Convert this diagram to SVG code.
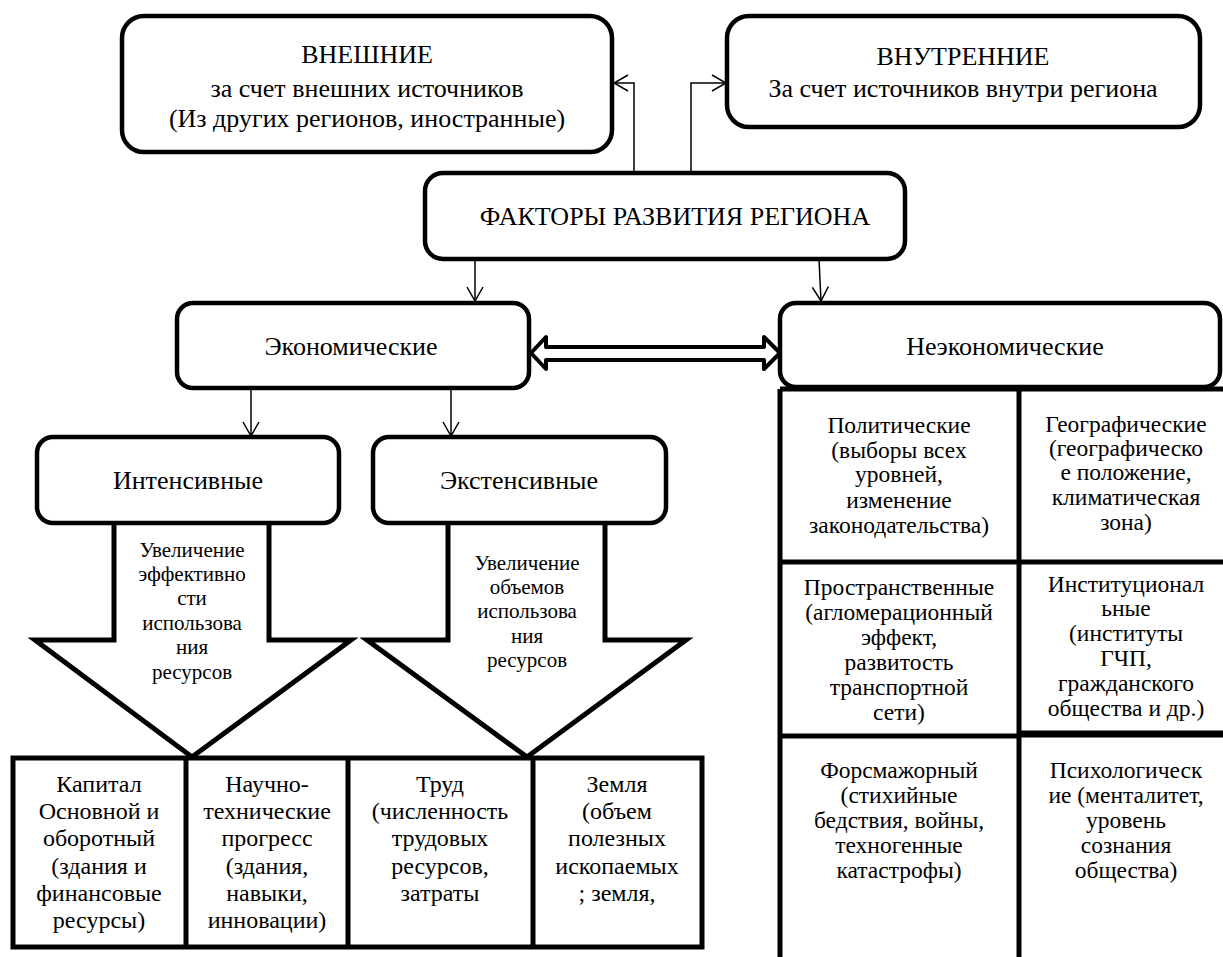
<svg xmlns="http://www.w3.org/2000/svg" width="1223" height="957" viewBox="0 0 1223 957">
<style>
.box{fill:#fff;stroke:#000;stroke-width:4.5}
.cell{fill:#fff;stroke:#000;stroke-width:5}
.ln{fill:none;stroke:#000;stroke-width:5}
.blk{fill:#fff;stroke:#000;stroke-width:5}
.conn{fill:none;stroke:#000;stroke-width:1.5}
.t{fill:#000;text-anchor:middle}
.big{font-size:26px}
.mid{font-size:24px}
.grd{font-size:23.5px}
.sm{font-size:21px}
</style>
<defs>
<marker id="arr" viewBox="0 0 16 18" refX="15" refY="9" markerWidth="16" markerHeight="18" markerUnits="userSpaceOnUse" orient="auto">
<path d="M1,1 L15,9 L1,17" fill="none" stroke="#000" stroke-width="1.5"/>
</marker>
</defs>
<rect width="1223" height="957" fill="#fff"/>

<g id="connectors">
<path class="conn" d="M634,173 V83 H614" marker-end="url(#arr)"/>
<path class="conn" d="M691,173 V83 H726" marker-end="url(#arr)"/>
<path class="conn" d="M475,259 V301" marker-end="url(#arr)"/>
<path class="conn" d="M819,259 L821,301" marker-end="url(#arr)"/>
<path class="conn" d="M251,388 V436" marker-end="url(#arr)"/>
<path class="conn" d="M451,388 V436" marker-end="url(#arr)"/>
<polygon points="531,353 546,337 546,347 764,347 764,337 780,353 764,369 764,360 546,360 546,369" fill="#fff" stroke="#000" stroke-width="4" stroke-linejoin="round"/>
</g>

<g id="vneshnie">
<rect class="box" x="122" y="16" width="490" height="136" rx="22"/>
<text class="t big" font-family="Liberation Serif" x="367"><tspan x="367" y="63">ВНЕШНИЕ</tspan><tspan x="367" y="97">за счет внешних источников</tspan><tspan x="367" y="127">(Из других регионов, иностранные)</tspan></text>
</g>

<g id="vnutrennie">
<rect class="box" x="727" y="16" width="473" height="111" rx="22"/>
<text class="t big" font-family="Liberation Serif" x="963"><tspan x="963" y="65">ВНУТРЕННИЕ</tspan><tspan x="963" y="97">За счет источников внутри региона</tspan></text>
</g>

<g id="faktory">
<rect class="box" x="425" y="173" width="480" height="86" rx="18"/>
<text class="t big" font-family="Liberation Serif" x="675" y="225">ФАКТОРЫ РАЗВИТИЯ РЕГИОНА</text>
</g>

<g id="ekonomicheskie">
<rect class="box" x="177" y="303" width="352" height="85" rx="16"/>
<text class="t big" font-family="Liberation Serif" x="351" y="355">Экономические</text>
</g>

<g id="neekonomicheskie">
<rect class="box" x="780" y="303" width="440" height="84" rx="16"/>
<text class="t big" font-family="Liberation Serif" x="1005" y="355">Неэкономические</text>
</g>

<g id="intensivnye-arrow">
<polyline class="blk" points="114,520 114,640 35,640 192,757 351,640 269,640 269,520"/>
<text class="t sm" font-family="Liberation Serif" x="192"><tspan x="192" y="557">Увеличение</tspan><tspan x="192" y="581">эффективно</tspan><tspan x="192" y="605">сти</tspan><tspan x="192" y="630">использова</tspan><tspan x="192" y="654">ния</tspan><tspan x="192" y="679">ресурсов</tspan></text>
</g>

<g id="ekstensivnye-arrow">
<polyline class="blk" points="448,520 448,640 367,640 527,757 686,640 605,640 605,520"/>
<text class="t sm" font-family="Liberation Serif" x="527"><tspan x="527" y="570">Увеличение</tspan><tspan x="527" y="594">объемов</tspan><tspan x="527" y="618">использова</tspan><tspan x="527" y="643">ния</tspan><tspan x="527" y="667">ресурсов</tspan></text>
</g>

<g id="intensivnye">
<rect class="box" x="37" y="437" width="302" height="86" rx="16"/>
<text class="t big" font-family="Liberation Serif" x="188" y="489">Интенсивные</text>
</g>

<g id="ekstensivnye">
<rect class="box" x="373" y="437" width="293" height="86" rx="16"/>
<text class="t big" font-family="Liberation Serif" x="519" y="489">Экстенсивные</text>
</g>

<g id="resources">
<rect class="cell" x="13" y="758" width="689" height="189"/>
<path class="ln" d="M186,758 V947 M348,758 V947 M533,758 V947"/>
<text class="t mid" font-family="Liberation Serif" x="99"><tspan x="99" y="792">Капитал</tspan><tspan x="99" y="819">Основной и</tspan><tspan x="99" y="846">оборотный</tspan><tspan x="99" y="874">(здания и</tspan><tspan x="99" y="901">финансовые</tspan><tspan x="99" y="928">ресурсы)</tspan></text>
<text class="t mid" font-family="Liberation Serif" x="267"><tspan x="267" y="792">Научно-</tspan><tspan x="267" y="819">технические</tspan><tspan x="267" y="846">прогресс</tspan><tspan x="267" y="874">(здания,</tspan><tspan x="267" y="901">навыки,</tspan><tspan x="267" y="928">инновации)</tspan></text>
<text class="t mid" font-family="Liberation Serif" x="440"><tspan x="440" y="792">Труд</tspan><tspan x="440" y="819">(численность</tspan><tspan x="440" y="846">трудовых</tspan><tspan x="440" y="874">ресурсов,</tspan><tspan x="440" y="901">затраты</tspan></text>
<text class="t mid" font-family="Liberation Serif" x="617"><tspan x="617" y="792">Земля</tspan><tspan x="617" y="819">(объем</tspan><tspan x="617" y="846">полезных</tspan><tspan x="617" y="874">ископаемых</tspan><tspan x="617" y="901">; земля,</tspan></text>
</g>

<g id="noneconomic-grid">
<path class="ln" d="M780,389 H1230 M780,389 V960 M1019,389 V960 M780,562 H1230 M780,736 H1019"/>
<path d="M1019,734 H1230" fill="none" stroke="#000" stroke-width="7"/>
<text class="t grd" font-family="Liberation Serif" x="899"><tspan x="899" y="433">Политические</tspan><tspan x="899" y="458">(выборы всех</tspan><tspan x="899" y="482">уровней,</tspan><tspan x="899" y="508">изменение</tspan><tspan x="899" y="533">законодательства)</tspan></text>
<text class="t grd" font-family="Liberation Serif" x="1126"><tspan x="1126" y="432">Географические</tspan><tspan x="1126" y="456">(географическо</tspan><tspan x="1126" y="480">е положение,</tspan><tspan x="1126" y="505">климатическая</tspan><tspan x="1126" y="530">зона)</tspan></text>
<text class="t grd" font-family="Liberation Serif" x="899"><tspan x="899" y="595">Пространственные</tspan><tspan x="899" y="620">(агломерационный</tspan><tspan x="899" y="645">эффект,</tspan><tspan x="899" y="670">развитость</tspan><tspan x="899" y="695">транспортной</tspan><tspan x="899" y="720">сети)</tspan></text>
<text class="t grd" font-family="Liberation Serif" x="1126"><tspan x="1126" y="592">Институционал</tspan><tspan x="1126" y="616">ьные</tspan><tspan x="1126" y="641">(институты</tspan><tspan x="1126" y="666">ГЧП,</tspan><tspan x="1126" y="691">гражданского</tspan><tspan x="1126" y="716">общества и др.)</tspan></text>
<text class="t grd" font-family="Liberation Serif" x="899"><tspan x="899" y="778">Форсмажорный</tspan><tspan x="899" y="803">(стихийные</tspan><tspan x="899" y="828">бедствия, войны,</tspan><tspan x="899" y="853">техногенные</tspan><tspan x="899" y="878">катастрофы)</tspan></text>
<text class="t grd" font-family="Liberation Serif" x="1126"><tspan x="1126" y="778">Психологическ</tspan><tspan x="1126" y="803">ие (менталитет,</tspan><tspan x="1126" y="828">уровень</tspan><tspan x="1126" y="853">сознания</tspan><tspan x="1126" y="878">общества)</tspan></text>
</g>
</svg>
